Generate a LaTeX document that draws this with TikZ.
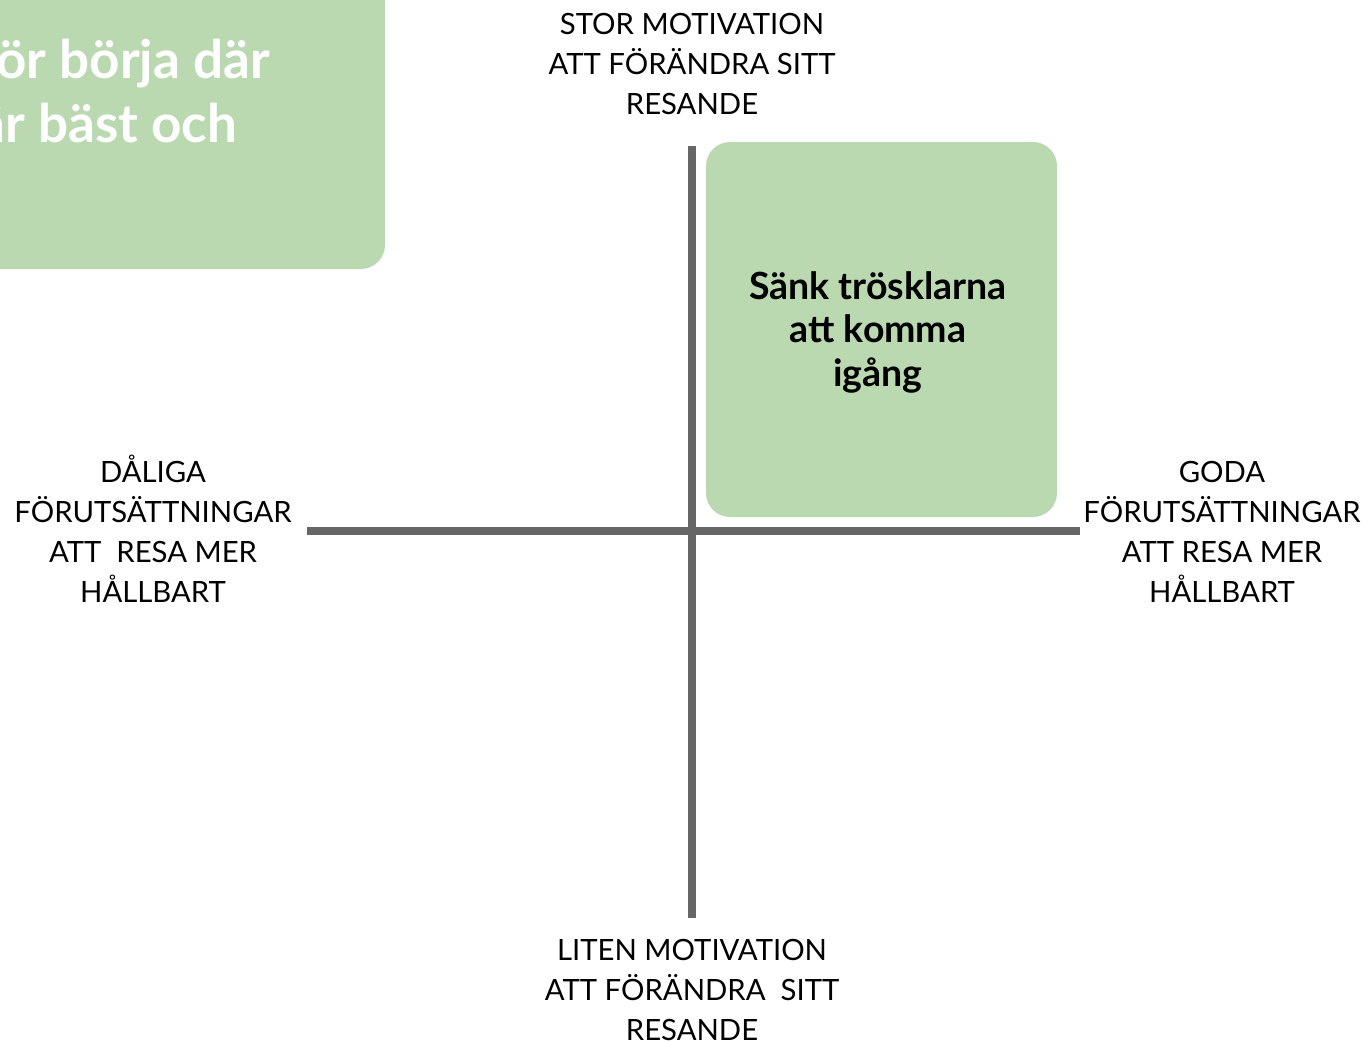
\documentclass[tikz,border=0pt]{standalone}
\usepackage{fontspec}
\setmainfont{Lato}
\definecolor{boxgreen}{HTML}{BAD9B0}
\definecolor{axisgray}{HTML}{666666}
\begin{document}
\begin{tikzpicture}[x=1pt,y=-1pt,
  lbl/.style={align=center,inner sep=0pt,anchor=north,font=\fontsize{29.3}{40}\selectfont},
  axis/.style={draw=axisgray,line width=8pt},
  gbox/.style={fill=boxgreen,rounded corners=24pt}]
\useasboundingbox (0,0) rectangle (1369,1041);
% top-left box
\fill[gbox] (-60,-60) rectangle (385,269);
\node[anchor=base east,inner sep=0pt,text=white,font=\fontsize{53}{64}\bfseries\selectfont] (tl1) at (270,78) {ör börja där};
\node[anchor=base east,inner sep=0pt,text=white,font=\fontsize{53}{64}\bfseries\selectfont] (tl2) at (237,142) {är bäst och};
% axes
\coordinate (vt) at (692,146);
\coordinate (vb) at (692,918);
\coordinate (hl) at (307,531);
\coordinate (hr) at (1080,531);
\draw[axis] (vt) -- (vb);
\draw[axis] (hl) -- (hr);
% green box
\fill[gbox] (706,142) rectangle (1057,517);
\node[inner sep=0pt,align=center,font=\fontsize{37.5}{43.5}\bfseries\selectfont] (sank) at (878,332) {Sänk trösklarna\\att komma\\igång};
% labels
\node[lbl] (top) at (692,13) {STOR MOTIVATION\\ATT FÖRÄNDRA SITT\\RESANDE};
\node[lbl] (left) at (153,455) {DÅLIGA\\FÖRUTSÄTTNINGAR\\ATT\ \ RESA MER\\HÅLLBART};
\node[lbl] (right) at (1222,455) {\vphantom{Å}GODA\\FÖRUTSÄTTNINGAR\\ATT RESA MER\\HÅLLBART};
\node[lbl] (bottom) at (692,939) {LITEN MOTIVATION\\ATT FÖRÄNDRA\ \ SITT\\RESANDE};
\end{tikzpicture}
\end{document}
